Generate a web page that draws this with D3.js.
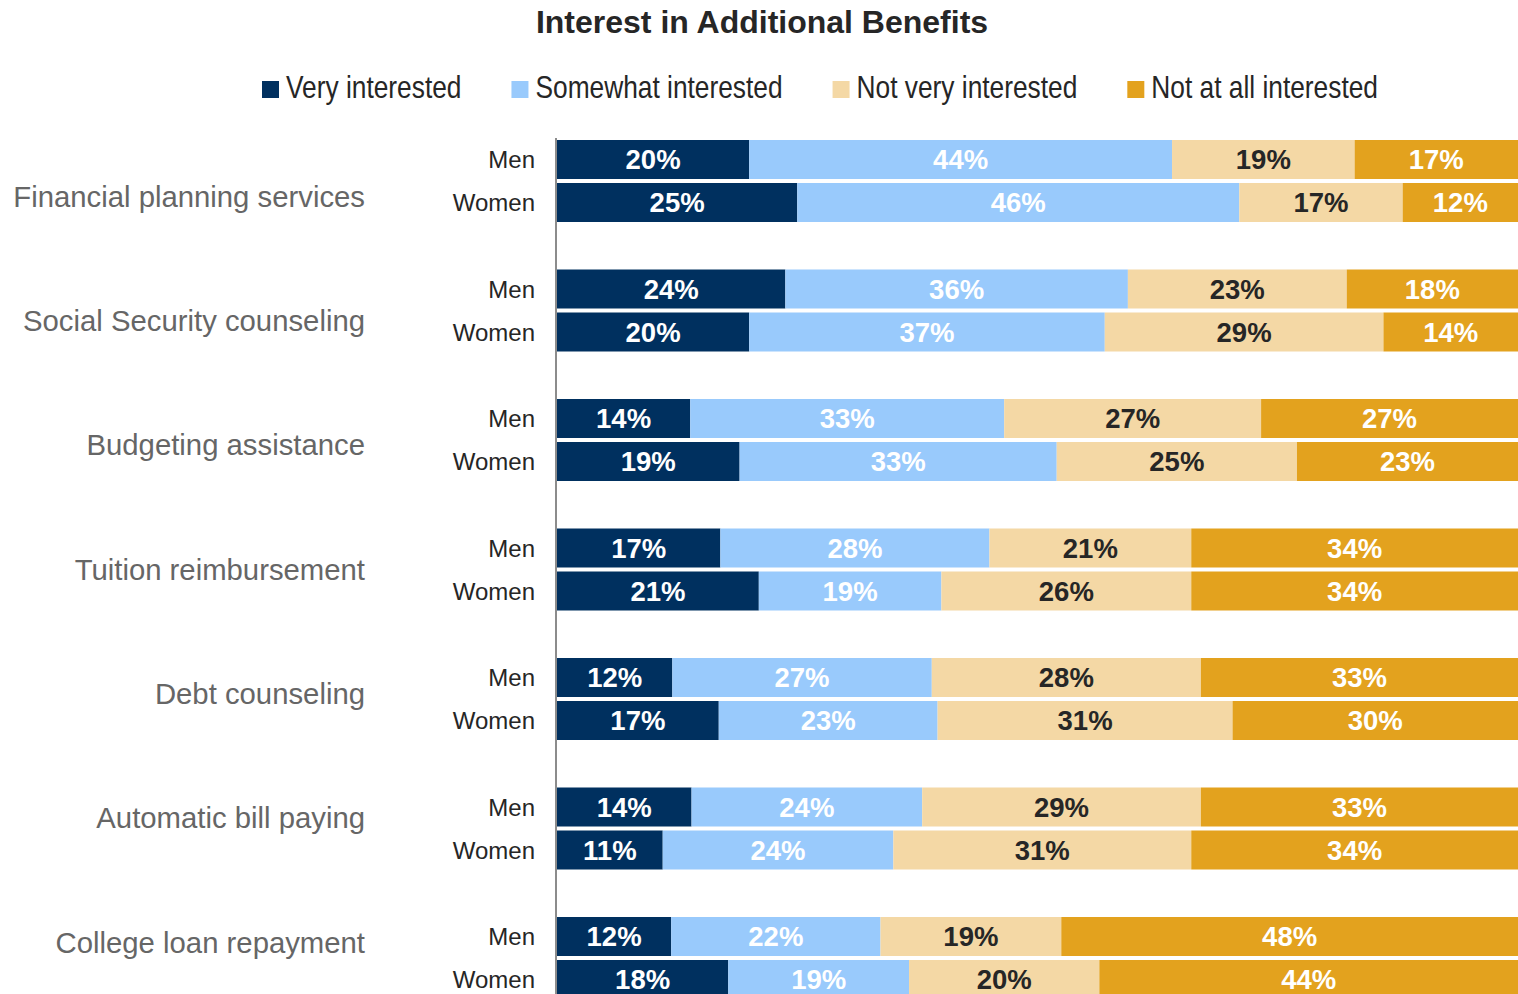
<!DOCTYPE html>
<html>
<head>
<meta charset="utf-8">
<script src="https://cdn.jsdelivr.net/npm/d3@7"></script>
<style>
  body { margin: 0; background: #fff; }
  text { font-family: "Liberation Sans", Arial, sans-serif; }
</style>
</head>
<body>
<div id="chart"></div>
<script>
// benefit categories, top to bottom
const categories = ["Financial planning services", "Social Security counseling", "Budgeting assistance",
  "Tuition reimbursement", "Debt counseling", "Automatic bill paying", "College loan repayment"];
const genders = ["Men", "Women"];
const seriesNames = ["Very interested", "Somewhat interested", "Not very interested", "Not at all interested"];
const seriesKeys = ["very", "somewhat", "notVery", "notAtAll"];

// percentages
const menVery = [20, 24, 14, 17, 12, 14, 12];
const menSomewhat = [44, 36, 33, 28, 27, 24, 22];
const menNotVery = [19, 23, 27, 21, 28, 29, 19];
const menNotAtAll = [17, 18, 27, 34, 33, 33, 48];
const womenVery = [25, 20, 19, 21, 17, 11, 18];
const womenSomewhat = [46, 37, 33, 19, 23, 24, 19];
const womenNotVery = [17, 29, 25, 26, 31, 31, 20];
const womenNotAtAll = [12, 14, 23, 34, 30, 34, 44];

const colors = ["#00305f", "#99cafc", "#f4d8a5", "#e3a21e"];
const labelColors = ["#ffffff", "#ffffff", "#262626", "#ffffff"];

function drawChart() {
  const svg = d3.select("#chart").append("svg").attr("width", 1518).attr("height", 994);

  let rows = [];
  categories.forEach((c, i) => {
    rows.push({ category: c, gender: "Men", very: menVery[i], somewhat: menSomewhat[i], notVery: menNotVery[i], notAtAll: menNotAtAll[i] });
    rows.push({ category: c, gender: "Women", very: womenVery[i], somewhat: womenSomewhat[i], notVery: womenNotVery[i], notAtAll: womenNotAtAll[i] });
  });

  // bars are stretched to the full width, like a 100% stacked bar
  const stacked = d3.stack().keys(seriesKeys).offset(d3.stackOffsetExpand)(rows);

  const x = d3.scaleLinear().domain([0, 1]).range([557, 1518]);
  const y0 = d3.scaleBand().domain(categories).range([140, 999]).paddingInner(0.3668).paddingOuter(0);
  const y1 = d3.scaleBand().domain(genders).range([0, y0.bandwidth()]).paddingInner(0.093).paddingOuter(0);
  const labelY = d3.scalePoint().domain(categories).range([196, 942]);

  // title
  svg.append("text")
    .attr("x", 762)
    .attr("y", 33)
    .attr("text-anchor", "middle")
    .attr("font-size", 32)
    .attr("font-weight", "bold")
    .attr("fill", "#262626")
    .text("Interest in Additional Benefits");

  // legend
  const legend = svg.append("g");
  let lx = 262;
  seriesNames.forEach((name, i) => {
    legend.append("rect")
      .attr("x", lx).attr("y", 81)
      .attr("width", 17).attr("height", 17)
      .attr("fill", colors[i]);
    const t = legend.append("text")
      .attr("x", lx + 24)
      .attr("y", 98)
      .attr("font-size", 32)
      .attr("fill", "#262626")
      .text(name);
    const w = t.node().getComputedTextLength() * 0.822;
    t.attr("textLength", w).attr("lengthAdjust", "spacingAndGlyphs");
    lx += 24 + w + 50;
  });

  // bars
  const bars = svg.append("g");
  stacked.forEach((layer, i) => {
    layer.forEach(d => {
      const yy = y0(d.data.category) + y1(d.data.gender);
      bars.append("rect")
        .attr("x", x(d[0]))
        .attr("y", yy)
        .attr("width", x(d[1]) - x(d[0]))
        .attr("height", y1.bandwidth())
        .attr("fill", colors[i]);
      bars.append("text")
        .attr("x", (x(d[0]) + x(d[1])) / 2)
        .attr("y", yy + y1.bandwidth() / 2)
        .attr("dy", "0.36em")
        .attr("text-anchor", "middle")
        .attr("font-size", 27.5)
        .attr("font-weight", "bold")
        .attr("fill", labelColors[i])
        .text(d.data[layer.key] + "%");
    });
  });

  // gender labels
  rows.forEach(r => {
    svg.append("text")
      .attr("x", 535)
      .attr("y", y0(r.category) + y1(r.gender) + y1.bandwidth() / 2)
      .attr("dy", "0.36em")
      .attr("text-anchor", "end")
      .attr("font-size", 24)
      .attr("fill", "#262626")
      .text(r.gender);
  });

  // category labels
  svg.append("g").selectAll("text")
    .data(categories)
    .join("text")
    .attr("x", 365)
    .attr("y", d => labelY(d))
    .attr("dy", "0.36em")
    .attr("text-anchor", "end")
    .attr("font-size", 29.3)
    .attr("fill", "#666666")
    .text(d => d);

  // vertical axis line
  svg.append("line")
    .attr("x1", 556).attr("x2", 556)
    .attr("y1", 138).attr("y2", 994)
    .attr("stroke", "#8c8c8c")
    .attr("stroke-width", 2);
}

drawChart();
</script>
</body>
</html>
